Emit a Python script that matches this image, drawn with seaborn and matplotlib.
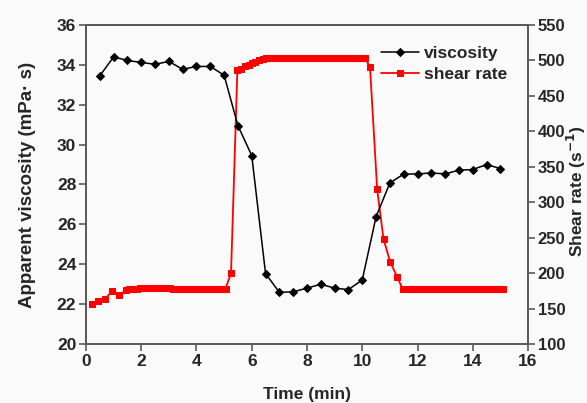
import pandas as pd
import matplotlib.pyplot as plt
import seaborn as sns

sns.set_style("ticks")
plt.rcParams['font.family'] = ['Liberation Sans', 'DejaVu Sans']
plt.rcParams['font.weight'] = 'bold'

# viscosity (left axis)
time_visc = [0.5, 1.0, 1.5, 2.0, 2.5, 3.0, 3.5, 4.0, 4.5, 5.0,
             5.5, 6.0, 6.5, 7.0, 7.5, 8.0, 8.5, 9.0, 9.5, 10.0,
             10.5, 11.0, 11.5, 12.0, 12.5, 13.0, 13.5, 14.0, 14.5, 15.0]
viscosity = [33.45, 34.4, 34.22, 34.12, 34.03, 34.17, 33.78, 33.92, 33.92, 33.48,
             30.95, 29.45, 23.53, 22.59, 22.62, 22.8, 23.0, 22.8, 22.73, 23.21,
             26.38, 28.08, 28.52, 28.53, 28.58, 28.53, 28.72, 28.75, 29.0, 28.8]

# shear rate (right axis)
time_shear = [0.2, 0.45, 0.7, 0.95, 1.2, 1.45, 1.55, 1.65, 1.75, 1.85,
              1.95, 2.05, 2.15, 2.25, 2.35, 2.45, 2.55, 2.65, 2.75, 2.85,
              2.95, 3.05, 3.15, 3.25, 3.35, 3.45, 3.55, 3.65, 3.75, 3.85,
              3.95, 4.05, 4.15, 4.25, 4.35, 4.45, 4.55, 4.65, 4.75, 4.85,
              4.95, 5.05, 5.25, 5.48, 5.6, 5.75, 5.9, 6.0, 6.1, 6.25,
              6.4, 6.5, 6.6, 6.7, 6.8, 6.9, 7.0, 7.1, 7.2, 7.3,
              7.4, 7.5, 7.6, 7.7, 7.8, 7.9, 8.0, 8.1, 8.2, 8.3,
              8.4, 8.5, 8.6, 8.7, 8.8, 8.9, 9.0, 9.1, 9.2, 9.3,
              9.4, 9.5, 9.6, 9.7, 9.8, 9.9, 10.0, 10.1, 10.28, 10.54,
              10.77, 11.01, 11.26, 11.47, 11.6, 11.7, 11.8, 11.9, 12.0, 12.1,
              12.2, 12.3, 12.4, 12.5, 12.6, 12.7, 12.8, 12.9, 13.0, 13.1,
              13.2, 13.3, 13.4, 13.5, 13.6, 13.7, 13.8, 13.9, 14.0, 14.1,
              14.2, 14.3, 14.4, 14.5, 14.6, 14.7, 14.8, 14.9, 15.0, 15.1]
shear_rate = [156, 160, 164, 175, 169, 176, 177, 177, 178, 178,
              179, 179, 179, 179, 179, 179, 179, 179, 179, 179,
              179, 179, 177, 177, 177, 177, 177, 177, 177, 177,
              178, 178, 177, 177, 177, 177, 177, 177, 177, 177,
              177, 178, 200, 486, 488, 492, 494, 497, 498, 500,
              502, 503, 503, 503, 503, 503, 503, 503, 503, 503,
              503, 503, 503, 503, 503, 503, 503, 503, 503, 503,
              503, 503, 503, 503, 503, 503, 503, 503, 503, 503,
              503, 503, 503, 503, 503, 503, 503, 503, 491, 318,
              248, 216, 195, 177, 177, 177, 177, 177, 177, 177,
              177, 177, 177, 177, 177, 177, 177, 177, 177, 177,
              177, 177, 177, 177, 177, 177, 177, 177, 177, 177,
              177, 177, 177, 177, 177, 177, 177, 177, 177, 177]

df_v = pd.DataFrame({'time': time_visc, 'viscosity': viscosity})
df_s = pd.DataFrame({'time': time_shear, 'shear': shear_rate})

fig = plt.figure(figsize=(5.87, 4.03), dpi=100, facecolor='#fafafa')
ax = fig.add_axes([0.1465, 0.1464, 0.753, 0.7916])
ax2 = ax.twinx()

sns.lineplot(data=df_v, x='time', y='viscosity', ax=ax, color='black', marker='D',
             markersize=4.5, markeredgecolor='black', linewidth=1.1, label='viscosity')
sns.lineplot(data=df_s, x='time', y='shear', ax=ax2, color='red', marker='s',
             markersize=4, markeredgecolor='red', linewidth=1.3, label='shear rate')

# black series drawn above red
ax.set_zorder(ax2.get_zorder() + 1)
ax.patch.set_visible(False)

ax.set_xlim(0, 16)
ax.set_ylim(20, 36)
ax2.set_ylim(100, 550)
ax.set_xticks(range(0, 17, 2))
ax.set_yticks(range(20, 37, 2))
ax2.set_yticks(range(100, 551, 50))

spine_col = '#5a5a5a'
for a in (ax, ax2):
    for s in a.spines.values():
        s.set_visible(True)
        s.set_color(spine_col)
        s.set_linewidth(1.4)
    a.tick_params(length=5, width=1.2, color=spine_col, labelsize=12.5, pad=2)
ax.tick_params(axis='y', right=False)
ax.tick_params(axis='x', top=False)
ax2.tick_params(axis='y', left=False, labelsize=12)

ax.set_xlabel('Time (min)', fontsize=12.5, fontweight='bold')
ax.xaxis.set_label_coords(0.5, -0.135)
ax.set_ylabel('Apparent viscosity (mPa· s)', fontsize=13.5, fontweight='bold')
ax.yaxis.set_label_coords(-0.112, 0.5)
ax2.set_ylabel('Shear rate (s$^{-1}$)', fontsize=12.5, fontweight='bold')
ax2.yaxis.set_label_coords(1.084, 0.48)

h1, l1 = ax.get_legend_handles_labels()
h2, l2 = ax2.get_legend_handles_labels()
ax2.get_legend().remove()
ax.legend(h1 + h2, l1 + l2, loc='upper right', frameon=False, fontsize=12.5,
          handlelength=2.2, handletextpad=0.3, labelspacing=0.35, borderaxespad=0.8)

fig.savefig('out.png', dpi=100, facecolor=fig.get_facecolor())
